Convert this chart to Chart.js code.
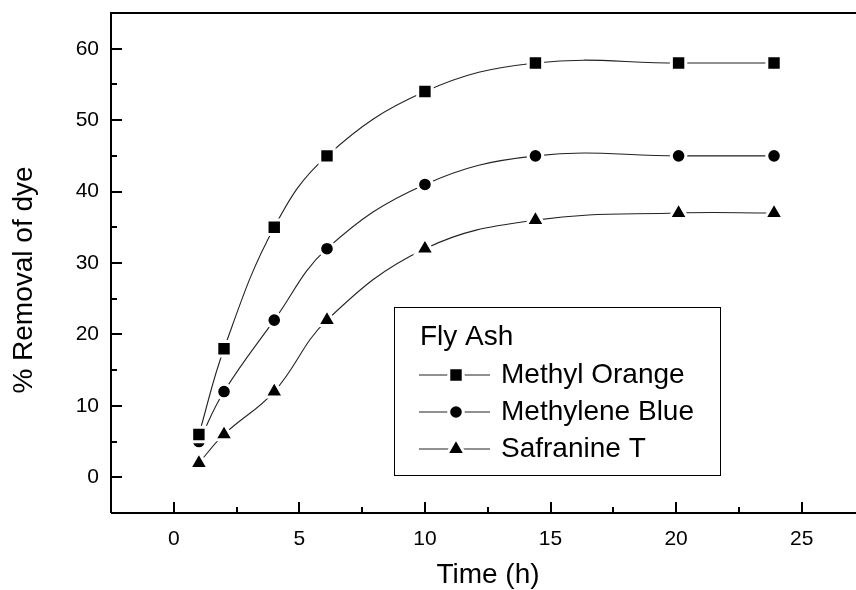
<!DOCTYPE html>
<html>
<head>
<meta charset="utf-8">
<script src="https://cdn.jsdelivr.net/npm/chart.js@4"></script>
<style>
  body { margin: 0; overflow: hidden; background: #fff; }
</style>
</head>
<body>
<canvas id="chart" width="877" height="590"></canvas>
<script>
// time in hours for each sample
const timeH = [1, 2, 4, 6.1, 10, 14.4, 20.1, 23.9];
const methylOrange = [6, 18, 35, 45, 54, 58, 58, 58];
const methyleneBlue = [5, 12, 22, 32, 41, 45, 45, 45];
const safranineT = [2, 6, 12, 22, 32, 36, 37, 37];

const xTicks = [0, 5, 10, 15, 20, 25];
const xMinor = [2.5, 7.5, 12.5, 17.5, 22.5, 27.5];
const yTicks = [0, 10, 20, 30, 40, 50, 60];
const yMinor = [5, 15, 25, 35, 45, 55];

const FONT = "'Liberation Sans', Arial, sans-serif";

function pts(ys) {
  return ys.map((y, i) => ({ x: timeH[i], y: y }));
}

// white ring round each marker gives the small gap where the line meets it
function series(label, ys, style, radius) {
  return {
    label: label,
    data: pts(ys),
    borderColor: "#222",
    borderWidth: 1.1,
    pointStyle: style,
    pointRadius: radius,
    pointHoverRadius: radius,
    pointBackgroundColor: "#000",
    pointBorderColor: "#fff",
    pointBorderWidth: 3,
    tension: 0.4,
    fill: false,
  };
}

// frame, inward ticks, axis titles and the boxed legend
const framePlugin = {
  id: "frame",
  afterDraw(chart) {
    const { ctx, chartArea: a, scales } = chart;
    const xs = scales.x, ys = scales.y;
    ctx.save();
    ctx.strokeStyle = "#000";
    ctx.lineWidth = 2;
    ctx.beginPath();
    ctx.moveTo(a.left, a.bottom);
    ctx.lineTo(a.left, a.top);
    ctx.lineTo(a.right, a.top);
    ctx.moveTo(a.left, a.bottom);
    ctx.lineTo(a.right, a.bottom);
    ctx.stroke();

    ctx.beginPath();
    xTicks.forEach((v) => {
      const p = Math.round(xs.getPixelForValue(v));
      ctx.moveTo(p, a.bottom);
      ctx.lineTo(p, a.bottom - 11);
    });
    xMinor.forEach((v) => {
      const p = Math.round(xs.getPixelForValue(v));
      ctx.moveTo(p, a.bottom);
      ctx.lineTo(p, a.bottom - 6);
    });
    yTicks.forEach((v) => {
      const p = Math.round(ys.getPixelForValue(v));
      ctx.moveTo(a.left, p);
      ctx.lineTo(a.left + 11, p);
    });
    yMinor.forEach((v) => {
      const p = Math.round(ys.getPixelForValue(v));
      ctx.moveTo(a.left, p);
      ctx.lineTo(a.left + 6, p);
    });
    ctx.stroke();

    // axis titles
    ctx.fillStyle = "#000";
    ctx.font = "28px " + FONT;
    ctx.textAlign = "center";
    ctx.textBaseline = "middle";
    ctx.fillText("Time (h)", 488, 575);
    ctx.save();
    ctx.translate(24, 280);
    ctx.rotate(-Math.PI / 2);
    ctx.fillText("% Removal of dye", 0, 0);
    ctx.restore();

    // legend
    ctx.lineWidth = 1;
    ctx.strokeStyle = "#000";
    ctx.strokeRect(394.5, 307.5, 326, 168);
    ctx.textAlign = "left";
    ctx.fillText("Fly Ash", 420, 337);
    chart.data.datasets.forEach((ds, i) => {
      const y = 375 + i * 37;
      ctx.strokeStyle = "#222";
      ctx.lineWidth = 1;
      ctx.beginPath();
      ctx.moveTo(419, y);
      ctx.lineTo(490, y);
      ctx.stroke();
      ctx.fillStyle = "#000";
      ctx.strokeStyle = "#fff";
      ctx.lineWidth = 3;
      Chart.helpers.drawPoint(ctx, {
        pointStyle: ds.pointStyle,
        radius: ds.pointRadius,
        rotation: 0,
        borderWidth: 3,
      }, 456, y);
      ctx.fillStyle = "#000";
      ctx.fillText(ds.label, 501, y);
    });
    ctx.restore();
  },
};

new Chart(document.getElementById("chart"), {
  type: "line",
  data: {
    datasets: [
      series("Methyl Orange", methylOrange, "rect", 10.2),
      series("Methylene Blue", methyleneBlue, "circle", 7.3),
      series("Safranine T", safranineT, "triangle", 10.8),
    ],
  },
  options: {
    responsive: false,
    animation: false,
    layout: { autoPadding: false, padding: { top: 13, left: 0, right: 0, bottom: 0 } },
    plugins: {
      legend: { display: false },
      tooltip: { enabled: false },
    },
    scales: {
      x: {
        type: "linear",
        min: -2.5,
        max: 28,
        afterBuildTicks: (s) => { s.ticks = xTicks.map((v) => ({ value: v })); },
        afterFit: (s) => {
          s.height = 77;
          s.paddingLeft = 0;
          s.paddingRight = 0;
        },
        grid: { display: false, drawTicks: false },
        border: { display: false },
        ticks: {
          color: "#000",
          padding: 14,
          maxRotation: 0,
          font: { family: FONT, size: 21 },
        },
      },
      y: {
        type: "linear",
        min: -5,
        max: 65,
        afterBuildTicks: (s) => { s.ticks = yTicks.map((v) => ({ value: v })); },
        afterFit: (s) => {
          s.width = 111;
          s.paddingTop = 0;
          s.paddingBottom = 0;
        },
        grid: { display: false, drawTicks: false },
        border: { display: false },
        ticks: {
          color: "#000",
          padding: 12,
          font: { family: FONT, size: 21 },
        },
      },
    },
  },
  plugins: [framePlugin],
});
</script>
</body>
</html>
